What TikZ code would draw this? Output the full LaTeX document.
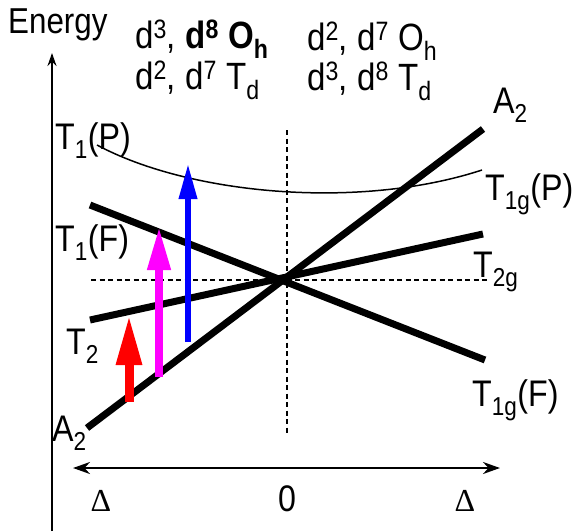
\documentclass[tikz,border=0pt]{standalone}
\usepackage{fontspec}
\setmainfont[FakeStretch=0.87]{Liberation Sans}
\newfontfamily\deltafont{Liberation Serif}
\usetikzlibrary{arrows.meta}
\definecolor{trred}{RGB}{255,0,0}
\definecolor{trmagenta}{RGB}{255,0,255}
\definecolor{trblue}{RGB}{0,0,255}

\begin{document}
\begin{tikzpicture}[x=1pt, y=-1pt,
    lvl/.style={line width=7pt},
    thinlvl/.style={line width=1.5pt},
    guide/.style={line width=1.8pt, dash pattern=on 5pt off 3.5pt},
    axisline/.style={line width=2.5pt},
    lbl/.style={anchor=base west, inner sep=0pt, font=\fontsize{37}{44}\selectfont},
    tick/.style={anchor=base, inner sep=0pt, font=\fontsize{37}{44}\selectfont},
]
\useasboundingbox (0,0) rectangle (579,531);

% axes
\coordinate (ebot) at (52,531);
\coordinate (etop) at (52,53);
\coordinate (zero) at (287,468);
\coordinate (dleft) at (73,468);
\coordinate (dright) at (500,468);
\draw[line width=2pt, -{Stealth[length=13pt, width=9pt]}] (ebot) -- (etop);
\draw[axisline, -{Stealth[length=17pt, width=12pt]}] (zero) -- (dleft);
\draw[axisline, -{Stealth[length=17pt, width=12pt]}] (zero) -- (dright);

% guides through the crossing point
\coordinate (vtop) at (287,130);
\coordinate (vbot) at (287,433);
\coordinate (hleft) at (91,280);
\coordinate (hright) at (487,280);
\draw[guide] (vtop) -- (vbot);
\draw[guide] (hleft) -- (hright);

% levels
\coordinate (tfl) at (90,205);
\coordinate (tfr) at (485,360);
\coordinate (ttl) at (90,320);
\coordinate (ttr) at (483,234);
\coordinate (aal) at (87,428);
\coordinate (aar) at (483,129);
\coordinate (tpl) at (97,145);
\coordinate (tpr) at (482,170);
\draw[lvl] (tfl) -- (tfr);
\draw[lvl] (ttl) -- (ttr);
\draw[lvl] (aal) -- (aar);
\draw[thinlvl] (tpl) .. controls (190,195) and (360,210) .. (tpr);

% transitions
\coordinate (redlo) at (129,402);
\coordinate (redhi) at (129,315);
\coordinate (maglo) at (159,377);
\coordinate (maghi) at (159,227);
\coordinate (blulo) at (188,342);
\coordinate (bluhi) at (188,163);
\draw[line width=9pt, trred, -{Triangle[length=50pt, width=24pt]}] (redlo) -- (redhi);
\draw[line width=7.5pt, trmagenta, -{Triangle[length=43pt, width=22pt]}] (maglo) -- (maghi);
\draw[line width=6.5pt, trblue, -{Triangle[length=36pt, width=17pt]}] (blulo) -- (bluhi);

% labels
\node[lbl, font=\fontsize{36}{44}\selectfont] (energy) at (8,33) {Energy};
\node[lbl, font=\fontsize{38}{44}\selectfont] (ohleft) at (135,48) {d\textsuperscript{3}, \textbf{d\textsuperscript{8} O\textsubscript{h}}};
\node[lbl, font=\fontsize{38}{44}\selectfont] (tdleft) at (135,89) {d\textsuperscript{2}, d\textsuperscript{7} T\textsubscript{d}};
\node[lbl, font=\fontsize{38}{44}\selectfont] (ohright) at (307,50) {d\textsuperscript{2}, d\textsuperscript{7} O\textsubscript{h}};
\node[lbl, font=\fontsize{38}{44}\selectfont] (tdright) at (307,90) {d\textsuperscript{3}, d\textsuperscript{8} T\textsubscript{d}};

\node[lbl] (tpleft) at (55,149) {T\textsubscript{1}(P)};
\node[lbl] (tfleft) at (55,251) {T\textsubscript{1}(F)};
\node[lbl] (ttleft) at (66,354) {T\textsubscript{2}};
\node[lbl] (aaleft) at (52,441) {A\textsubscript{2}};
\node[lbl] (aaright) at (493,113) {A\textsubscript{2}};
\node[lbl] (tpright) at (485,200) {T\textsubscript{1g}(P)};
\node[lbl] (ttright) at (473,277) {T\textsubscript{2g}};
\node[lbl] (tfright) at (472,406) {T\textsubscript{1g}(F)};

\node[tick, font=\fontsize{32}{40}\deltafont] (dlbl) at (101,511) {Δ};
\node[tick] (zlbl) at (287,511) {0};
\node[tick, font=\fontsize{32}{40}\deltafont] (drbl) at (465,511) {Δ};
\end{tikzpicture}
\end{document}
